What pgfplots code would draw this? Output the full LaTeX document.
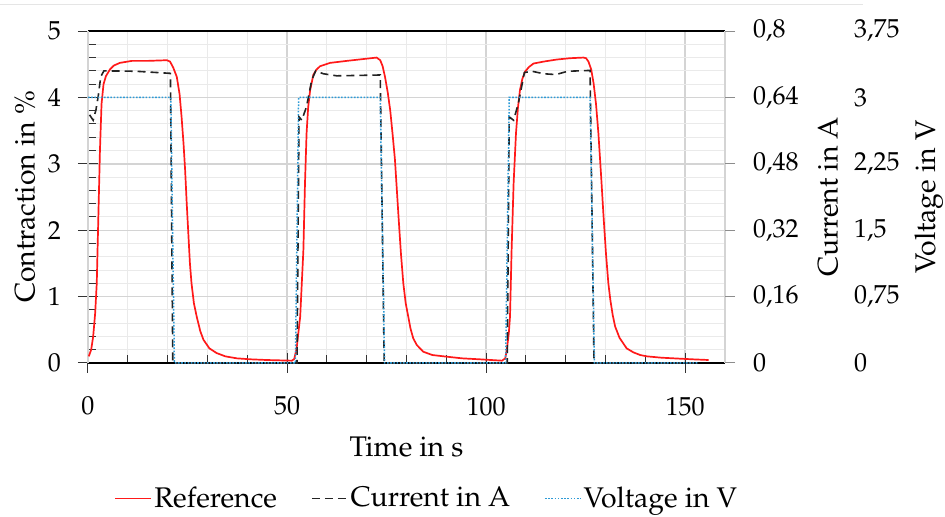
\documentclass[border=0pt]{standalone}
\usepackage[T1]{fontenc}
\usepackage{mathpazo}
\usepackage{pgfplots}
\pgfplotsset{compat=1.18}
\definecolor{refred}{RGB}{255,25,25}
\definecolor{curblack}{RGB}{35,35,35}
\definecolor{voltblue}{RGB}{45,155,215}
\definecolor{gridmaj}{RGB}{212,212,212}
\definecolor{gridmin}{RGB}{234,234,234}

\pgfplotsset{
  common/.style={
    width=318.5pt, height=166pt, scale only axis,
    at={(0,0)}, anchor=south west,
    xmin=0, xmax=160, clip=false,
    /pgf/number format/use comma,
    /pgf/number format/fixed,
    /pgf/number format/1000 sep={},
    tick label style={font=\fontsize{13}{15}\selectfont},
    label style={font=\fontsize{14.2}{16}\selectfont},
  },
  refstyle/.style={refred, line width=0.85pt},
  curstyle/.style={curblack, line width=0.8pt, dash pattern=on 4pt off 2.5pt},
  voltstyle/.style={voltblue, line width=0.75pt, dash pattern=on 0.8pt off 0.8pt},
}

\begin{document}
\begin{tikzpicture}
% faint frame line at the top
\draw[black!10, line width=0.5pt] (-44pt,179pt) -- (387.5pt,179pt);

% main axis: contraction
\begin{axis}[common,
  ymin=0, ymax=5,
  xtick={0,50,100,150}, minor x tick num=4,
  ytick={0,1,2,3,4,5}, minor y tick num=4,
  grid=both,
  major grid style={draw=gridmaj, line width=0.7pt},
  minor grid style={draw=gridmin, line width=0.5pt},
  separate axis lines,
  x axis line style={black, line width=0.6pt},
  y axis line style={gridmaj, line width=0.6pt},
  xtick pos=bottom, ytick pos=left,
  tick align=inside,
  major tick length=10pt, minor tick length=4pt,
  every major x tick/.append style={yshift=-5pt},
  every major y tick/.append style={xshift=-5pt},
  tick style={black!80, line width=0.5pt},
  xticklabel shift=13.5pt,
  yticklabel shift=10pt,
  xlabel={Time in s},
  xlabel style={at={(axis description cs:0.5,-0.2515)}, anchor=center},
  ylabel={Contraction in \%},
  ylabel style={at={(axis description cs:-0.0989,0.5)}, anchor=center, rotate=0},
]
\addplot[refstyle] coordinates {
(0.2,0.10) (0.8,0.20) (1.3,0.40) (1.8,0.75) (2.2,1.20) (2.6,2.20) (3.0,3.20)
(3.4,3.90) (3.9,4.20) (4.5,4.32) (5.5,4.42) (6.5,4.48) (8.0,4.52) (11.0,4.55)
(15,4.55) (19.8,4.56) (20.6,4.54) (21.4,4.45) (22.3,4.31) (23.0,4.05) (23.5,3.71)
(24.0,3.30) (24.4,2.90) (24.8,2.40) (25.2,1.95) (25.6,1.50) (26.0,1.20) (26.6,0.90)
(27.3,0.70) (28.2,0.48) (29.0,0.35) (30.5,0.22) (32.3,0.15) (34.5,0.10) (37.4,0.07)
(41,0.055) (44.9,0.045) (51.2,0.035) (51.8,0.06) (52.4,0.22) (53.3,0.70) (54.1,1.70)
(54.5,2.70) (54.9,3.46) (55.3,3.85) (55.8,4.11) (56.6,4.34) (57.4,4.42) (58.3,4.47)
(60.8,4.52) (65.0,4.55) (72.5,4.60) (73.4,4.56) (74.0,4.47) (74.6,4.31) (75.3,4.07)
(75.9,3.81) (76.5,3.45) (77.1,3.06) (78.0,2.20) (78.6,1.65) (79.2,1.20) (79.8,0.90)
(80.5,0.68) (81.0,0.52) (81.7,0.37) (82.6,0.27) (84.2,0.17) (86.5,0.12) (90.1,0.095)
(94,0.07) (98.5,0.055) (104.0,0.035) (104.8,0.07) (105.2,0.20) (105.7,0.45) (106.0,0.70)
(106.4,1.70) (106.9,2.70) (107.5,3.46) (108.0,3.85) (108.5,4.11) (109.1,4.28) (109.8,4.39)
(110.8,4.46) (111.9,4.51) (114.5,4.54) (117.7,4.57) (121,4.59) (124.4,4.60) (125.1,4.59)
(125.7,4.54) (126.4,4.42) (127.0,4.21) (127.6,3.90) (128.2,3.46) (128.9,2.80) (129.5,2.20)
(130.1,1.65) (130.7,1.20) (131.2,0.95) (131.8,0.72) (132.4,0.55) (133.5,0.38) (135.3,0.22)
(137,0.16) (138.7,0.12) (140.4,0.10) (144,0.08) (148.7,0.065) (152,0.055) (155.9,0.045)
};
\end{axis}

% second axis: current
\begin{axis}[common,
  ymin=0, ymax=0.8,
  axis x line=none, axis y line*=right,
  y axis line style={draw=none},
  ytick={0,0.16,0.32,0.48,0.64,0.8},
  tick align=outside, major tick length=5pt,
  tick style={black!45, line width=0.5pt},
  yticklabel style={anchor=west},
  yticklabel shift=5.5pt,
  ylabel={Current in A},
  ylabel style={at={(axis description cs:1.1617,0.5)}, anchor=center},
]
\addplot[curstyle] coordinates {
(0.4,0.598) (1.3,0.585) (2.0,0.610) (2.6,0.645) (3.2,0.690) (4.0,0.704) (12,0.703)
(20.7,0.698) (21.3,0) (52.5,0) (53.0,0.593) (53.7,0.585) (54.9,0.618) (56.2,0.682)
(57.2,0.704) (59.1,0.697) (62.5,0.692) (73.4,0.694) (74.4,0) (105.3,0) (105.8,0.593)
(106.9,0.585) (108.1,0.626) (109.0,0.670) (109.6,0.700) (111.5,0.703) (114.5,0.697)
(117.5,0.695) (120.5,0.703) (126.1,0.705) (127.1,0) (153.3,0)
};
\end{axis}

% third axis: voltage
\begin{axis}[common,
  ymin=0, ymax=3.75,
  axis x line=none, axis y line*=right,
  y axis line style={draw=none},
  ytick={0,0.75,1.5,2.25,3,3.75},
  major tick length=0pt, tick style={draw=none},
  yticklabel style={anchor=west},
  yticklabel shift=61pt,
  ylabel={Voltage in V},
  ylabel style={at={(axis description cs:1.320,0.5)}, anchor=center},
  legend columns=3,
  legend image code/.code={\draw[#1] (0pt,0pt) -- (18pt,0pt);},
  legend style={at={(axis description cs:0.532,-0.408)}, anchor=center,
    draw=none, fill=none, font=\fontsize{14.2}{16}\selectfont,
    nodes={inner sep=1pt},
    /tikz/every even column/.append style={column sep=16pt}},
]
\addlegendimage{refstyle}
\addlegendentry{Reference}
\addlegendimage{curstyle}
\addlegendentry{Current in A}
\addplot[voltstyle] coordinates {
(0,3) (20.8,3) (21.7,0) (52.1,0) (52.9,3) (73.4,3) (74.5,0) (104.9,0) (105.8,3)
(126.1,3) (127.2,0) (153.3,0)
};
\addlegendentry{Voltage in V}
\end{axis}

\pgfresetboundingbox
\path[use as bounding box] (-44pt,-77pt) rectangle (428.5pt,181.5pt);
\end{tikzpicture}
\end{document}
